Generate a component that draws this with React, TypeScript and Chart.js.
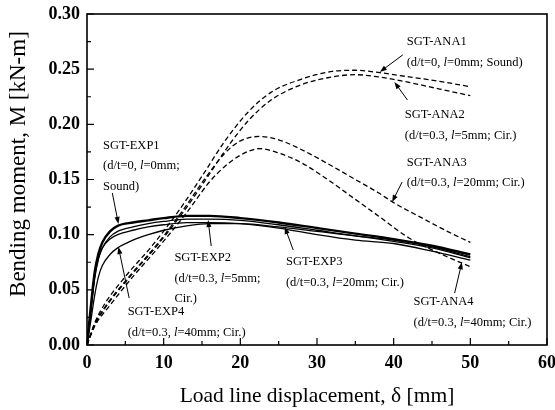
import React, { useEffect, useRef } from "react";
import { Chart, registerables } from "chart.js";

Chart.register(...registerables);

// ---------- axis settings ----------
const X_MIN = 0;
const X_MAX = 60;
const X_STEP = 10;
const X_MINOR = 5;
const Y_MIN = 0;
const Y_MAX = 0.3;
const Y_STEP = 0.05;
const Y_MINOR = 0.025;
const X_TITLE = "Load line displacement, δ [mm]";
const Y_TITLE = "Bending moment, M [kN-m]";

// ---------- experimental curves (solid) ----------
const EXP_X = [0, 0.5, 1, 1.5, 2, 3, 4, 6, 8, 10, 13, 16, 20, 25, 30, 35, 40, 45, 50];
const EXP1_Y = [0, 0.035, 0.066, 0.083, 0.093, 0.103, 0.108, 0.111, 0.113, 0.115, 0.117, 0.117, 0.115, 0.111, 0.106, 0.101, 0.096, 0.09, 0.082];
const EXP2_Y = [0, 0.03, 0.06, 0.078, 0.088, 0.098, 0.103, 0.107, 0.11, 0.112, 0.114, 0.114, 0.113, 0.109, 0.104, 0.099, 0.095, 0.089, 0.08];
const EXP3_Y = [0, 0.032, 0.062, 0.079, 0.088, 0.096, 0.1, 0.104, 0.107, 0.109, 0.111, 0.111, 0.11, 0.106, 0.1, 0.095, 0.092, 0.085, 0.077];
const EXP4_Y = [0, 0.022, 0.045, 0.062, 0.072, 0.082, 0.088, 0.095, 0.1, 0.104, 0.108, 0.11, 0.11, 0.107, 0.103, 0.099, 0.094, 0.088, 0.079];

// ---------- analytical curves (dashed) ----------
const ANA1_X = [0, 1, 2.2, 5, 8.5, 12, 15, 18, 21, 24, 28, 32, 35, 38, 42, 46, 50];
const ANA1_Y = [0, 0.02, 0.036, 0.062, 0.09, 0.122, 0.153, 0.185, 0.211, 0.229, 0.241, 0.248, 0.249, 0.247, 0.243, 0.239, 0.234];
const ANA2_X = [0, 1, 2.5, 5.5, 9, 12.5, 15.5, 18.5, 21, 24, 28, 32, 35, 38, 42, 46, 50];
const ANA2_Y = [0, 0.018, 0.035, 0.061, 0.089, 0.12, 0.15, 0.181, 0.203, 0.222, 0.236, 0.243, 0.245, 0.243, 0.238, 0.232, 0.226];
const ANA3_X = [0, 1, 2.5, 5.5, 9, 12.5, 15.5, 18, 20, 22.5, 25, 28, 32, 35, 38, 40, 44, 47, 50];
const ANA3_Y = [0, 0.019, 0.036, 0.062, 0.09, 0.122, 0.152, 0.174, 0.185, 0.189, 0.186, 0.177, 0.162, 0.15, 0.138, 0.129, 0.114, 0.103, 0.093];
const ANA4_X = [0, 1, 3, 6, 9.5, 13, 16, 18, 20, 22.5, 25, 28, 32, 35, 38, 42, 46, 50];
const ANA4_Y = [0, 0.017, 0.036, 0.062, 0.09, 0.12, 0.148, 0.162, 0.172, 0.178, 0.174, 0.165, 0.147, 0.132, 0.117, 0.097, 0.083, 0.071];

// ---------- callout labels (text anchored in data units, arrow from -> to) ----------
const LABELS = [
  { lines: ["SGT-ANA1", "(d/t=0, {l}=0mm; Sound)"], x: 41.7, y: 0.2746, from: [41.2, 0.263], to: [38.2, 0.2475] },
  { lines: ["SGT-ANA2", "(d/t=0.3, {l}=5mm; Cir.)"], x: 41.45, y: 0.2085, from: [41.8, 0.222], to: [40.1, 0.2384] },
  { lines: ["SGT-ANA3", "(d/t=0.3, {l}=20mm; Cir.)"], x: 41.7, y: 0.1655, from: [41.1, 0.1477], to: [39.8, 0.1296] },
  { lines: ["SGT-ANA4", "(d/t=0.3, {l}=40mm; Cir.)"], x: 42.6, y: 0.039, from: [47.95, 0.047], to: [48.9, 0.075] },
  { lines: ["SGT-EXP1", "(d/t=0, {l}=0mm;", "Sound)"], x: 2.1, y: 0.181, from: [3.3, 0.1378], to: [4.1, 0.1097] },
  { lines: ["SGT-EXP2", "(d/t=0.3, {l}=5mm;", "Cir.)"], x: 11.4, y: 0.0789, from: [16.2, 0.0897], to: [15.8, 0.1133] },
  { lines: ["SGT-EXP3", "(d/t=0.3, {l}=20mm; Cir.)"], x: 25.95, y: 0.0752, from: [26.9, 0.0861], to: [25.8, 0.1069] },
  { lines: ["SGT-EXP4", "(d/t=0.3, {l}=40mm; Cir.)"], x: 5.3, y: 0.0299, from: [5.5, 0.0426], to: [4.1, 0.0888] },
];

const SERIF = "'Liberation Serif', 'Times New Roman', serif";
const LABEL_SIZE = 12.5;
const LINE_GAP = 20.5;

const pts = (xs: number[], ys: number[]) => xs.map((x, i) => ({ x, y: ys[i] }));

function drawRich(ctx: CanvasRenderingContext2D, text: string, x: number, y: number) {
  const parts = text.split(/(\{l\})/);
  let cx = x;
  for (const p of parts) {
    if (!p) continue;
    const italic = p === "{l}";
    const s = italic ? "l" : p;
    ctx.font = `${italic ? "italic " : ""}${LABEL_SIZE}px ${SERIF}`;
    ctx.fillText(s, cx, y);
    cx += ctx.measureText(s).width;
  }
}

function arrow(ctx: CanvasRenderingContext2D, x1: number, y1: number, x2: number, y2: number) {
  const ang = Math.atan2(y2 - y1, x2 - x1);
  const hl = 7;
  const hw = 2.6;
  ctx.beginPath();
  ctx.moveTo(x1, y1);
  ctx.lineTo(x2 - Math.cos(ang) * hl * 0.8, y2 - Math.sin(ang) * hl * 0.8);
  ctx.stroke();
  ctx.beginPath();
  ctx.moveTo(x2, y2);
  ctx.lineTo(x2 - Math.cos(ang) * hl - Math.sin(ang) * hw, y2 - Math.sin(ang) * hl + Math.cos(ang) * hw);
  ctx.lineTo(x2 - Math.cos(ang) * hl + Math.sin(ang) * hw, y2 - Math.sin(ang) * hl - Math.cos(ang) * hw);
  ctx.closePath();
  ctx.fill();
}

const decorPlugin = {
  id: "decor",
  afterDraw(chart: any) {
    const { ctx, chartArea: a, scales } = chart;
    const xs = scales.x;
    const ys = scales.y;
    ctx.save();
    ctx.strokeStyle = "#000";
    ctx.fillStyle = "#000";
    // frame
    ctx.lineWidth = 1.6;
    ctx.strokeRect(a.left, a.top, a.right - a.left, a.bottom - a.top);
    // inward ticks
    ctx.lineWidth = 1.2;
    ctx.beginPath();
    const nx = Math.round((X_MAX - X_MIN) / X_MINOR);
    for (let i = 0; i <= nx; i++) {
      const v = X_MIN + i * X_MINOR;
      const px = xs.getPixelForValue(v);
      const len = i % Math.round(X_STEP / X_MINOR) === 0 ? 7 : 4;
      ctx.moveTo(px, a.bottom);
      ctx.lineTo(px, a.bottom - len);
    }
    const ny = Math.round((Y_MAX - Y_MIN) / Y_MINOR);
    for (let i = 0; i <= ny; i++) {
      const v = Y_MIN + i * Y_MINOR;
      const py = ys.getPixelForValue(v);
      const len = i % Math.round(Y_STEP / Y_MINOR) === 0 ? 7 : 4;
      ctx.moveTo(a.left, py);
      ctx.lineTo(a.left + len, py);
    }
    ctx.stroke();
    // y axis title (drawn by hand to match the reference's placement)
    ctx.save();
    ctx.translate(19, ys.getPixelForValue(0.164));
    ctx.rotate(-Math.PI / 2);
    ctx.textAlign = "center";
    ctx.textBaseline = "middle";
    ctx.font = `23px ${SERIF}`;
    ctx.fillText(Y_TITLE, 0, 0);
    ctx.restore();
    // callouts
    ctx.textBaseline = "middle";
    ctx.textAlign = "left";
    ctx.lineWidth = 1;
    for (const L of LABELS) {
      const tx = xs.getPixelForValue(L.x);
      const ty = ys.getPixelForValue(L.y);
      L.lines.forEach((ln, i) => drawRich(ctx, ln, tx, ty + i * LINE_GAP));
      arrow(
        ctx,
        xs.getPixelForValue(L.from[0]),
        ys.getPixelForValue(L.from[1]),
        xs.getPixelForValue(L.to[0]),
        ys.getPixelForValue(L.to[1])
      );
    }
    ctx.restore();
  },
};

export default function App() {
  const ref = useRef<HTMLCanvasElement | null>(null);

  useEffect(() => {
    if (!ref.current) return;
    const solid = (data: any, w: number) => ({
      data,
      borderColor: "#000",
      borderWidth: w,
      pointRadius: 0,
      fill: false,
      cubicInterpolationMode: "monotone" as const,
    });
    const dashed = (data: any) => ({
      data,
      borderColor: "#000",
      borderWidth: 1.3,
      borderDash: [5, 3],
      pointRadius: 0,
      fill: false,
      cubicInterpolationMode: "monotone" as const,
    });
    const chart = new Chart(ref.current, {
      type: "line",
      data: {
        datasets: [
          { label: "SGT-ANA1", ...dashed(pts(ANA1_X, ANA1_Y)) },
          { label: "SGT-ANA2", ...dashed(pts(ANA2_X, ANA2_Y)) },
          { label: "SGT-ANA3", ...dashed(pts(ANA3_X, ANA3_Y)) },
          { label: "SGT-ANA4", ...dashed(pts(ANA4_X, ANA4_Y)) },
          { label: "SGT-EXP4", ...solid(pts(EXP_X, EXP4_Y), 1.3) },
          { label: "SGT-EXP3", ...solid(pts(EXP_X, EXP3_Y), 1.3) },
          { label: "SGT-EXP2", ...solid(pts(EXP_X, EXP2_Y), 1.3) },
          { label: "SGT-EXP1", ...solid(pts(EXP_X, EXP1_Y), 2.4) },
        ],
      },
      options: {
        responsive: false,
        animation: false,
        events: [],
        layout: { padding: { top: 14, right: 8, left: 0, bottom: 0 } },
        plugins: { legend: { display: false }, tooltip: { enabled: false } },
        scales: {
          x: {
            type: "linear",
            min: X_MIN,
            max: X_MAX,
            grid: { display: false, drawTicks: false },
            border: { display: false },
            ticks: {
              stepSize: X_STEP,
              padding: 8,
              color: "#000",
              font: { family: SERIF, size: 18, weight: "bold" },
              maxRotation: 0,
            },
            title: {
              display: true,
              text: X_TITLE,
              color: "#000",
              font: { family: SERIF, size: 21.5 },
              padding: { top: 0, bottom: 1 },
            },
            afterFit(scale: any) {
              scale.height = 65;
              scale.paddingLeft = 0;
              scale.paddingRight = 0;
            },
          },
          y: {
            type: "linear",
            min: Y_MIN,
            max: Y_MAX,
            grid: { display: false, drawTicks: false },
            border: { display: false },
            ticks: {
              stepSize: Y_STEP,
              padding: 7,
              color: "#000",
              font: { family: SERIF, size: 18, weight: "bold" },
              callback: (v: any) => Number(v).toFixed(2),
            },
            title: { display: false },
            afterFit(scale: any) {
              scale.width = 87;
              scale.paddingTop = 0;
              scale.paddingBottom = 0;
            },
          },
        },
      },
      plugins: [decorPlugin],
    } as any);
    return () => chart.destroy();
  }, []);

  return (
    <div style={{ position: "fixed", left: 0, top: 0, width: 555, height: 410, background: "#fff" }}>
      <canvas ref={ref} width={555} height={410} />
    </div>
  );
}
